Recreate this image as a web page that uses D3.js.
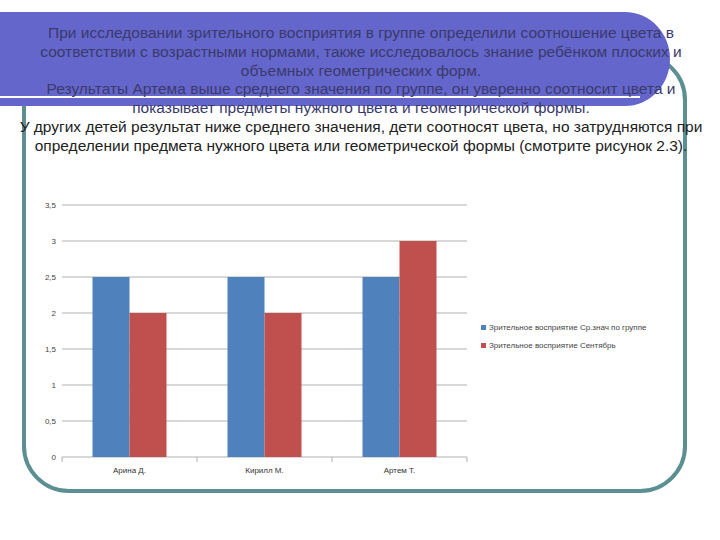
<!DOCTYPE html><html><head><meta charset="utf-8"><script src="https://cdn.jsdelivr.net/npm/d3@7"></script>
<style>body{margin:0;background:#fff}svg{display:block}</style></head><body><svg id="c" width="720" height="540"></svg><script>
const categories=["Арина Д.","Кирилл М.","Артем Т."];
const seriesNames=["Зрительное восприятие Ср.знач по группе","Зрительное восприятие Сентябрь"];
const seriesAvg=[2.5,2.5,2.5];
const seriesSep=[2,2,3];
const yTicks=[0,0.5,1,1.5,2,2.5,3,3.5];
const textLines=["При исследовании зрительного восприятия в группе определили соотношение цвета в","соответствии с возрастными нормами, также исследовалось знание ребёнком плоских и","объемных геометрических форм.","Результаты Артема выше среднего значения по группе, он уверенно соотносит цвета и","показывает предметы нужного цвета и геометрической формы.","У других детей результат ниже среднего значения, дети соотносят цвета, но затрудняются при","определении предмета нужного цвета или геометрической формы (смотрите рисунок 2.3)."];
const colors=["#4f81bd","#c0504d"];
const svg=d3.select("#c");
svg.append("rect").attr("x",24).attr("y",55).attr("width",661).attr("height",436).attr("rx",45).attr("fill","none").attr("stroke","#5b8f91").attr("stroke-width",4);
svg.append("path").attr("d","M-10,12 H625 A45,47 0 0 1 625,106 H-10 Z").attr("fill","#6466cc");
svg.append("line").attr("x1",0).attr("x2",640).attr("y1",97).attr("y2",97).attr("stroke","#fff").attr("stroke-width",2);
textLines.forEach((t,i)=>{svg.append("text").attr("x",361).attr("y",38+i*18.8).attr("text-anchor","middle")
 .attr("font-family","Liberation Sans, Arial").attr("font-size",15.5).attr("fill",i<5?"#3a3a6a":"#222").text(t);});
const x=d3.scaleBand().domain(categories).range([62,467]);
const y=d3.scaleLinear().domain([0,3.5]).range([457,205]);
const g=svg.append("g");
g.selectAll(".gl").data(yTicks).join("line").attr("x1",62).attr("x2",467).attr("y1",d=>y(d)).attr("y2",d=>y(d)).attr("stroke","#b0b0b0");
g.selectAll(".yl").data(yTicks).join("text").attr("x",56).attr("y",d=>y(d)+3).attr("text-anchor","end").attr("font-size",8).attr("font-family","Liberation Sans, Arial").attr("fill","#444").text(d=>String(d).replace(".",","));
const bw=37;
[seriesAvg,seriesSep].forEach((s,si)=>{
 g.selectAll(".b"+si).data(s).join("rect").attr("x",(d,i)=>x(categories[i])+x.bandwidth()/2-bw+si*bw).attr("width",bw)
  .attr("y",d=>y(d)).attr("height",d=>y(0)-y(d)).attr("fill",colors[si]);
});
g.selectAll(".tk").data([62,197,332,467]).join("line").attr("x1",d=>d).attr("x2",d=>d).attr("y1",457).attr("y2",462).attr("stroke","#b0b0b0");
g.selectAll(".xl").data(categories).join("text").attr("x",d=>x(d)+x.bandwidth()/2).attr("y",473).attr("text-anchor","middle").attr("font-size",8).attr("font-family","Liberation Sans, Arial").attr("fill","#333").text(d=>d);
seriesNames.forEach((n,i)=>{const ly=330+i*18;
 svg.append("rect").attr("x",481).attr("y",ly-5).attr("width",5).attr("height",5).attr("fill",colors[i]);
 svg.append("text").attr("x",489).attr("y",ly).attr("font-size",8).attr("font-family","Liberation Sans, Arial").attr("fill","#444").text(n);});
</script></body></html>
